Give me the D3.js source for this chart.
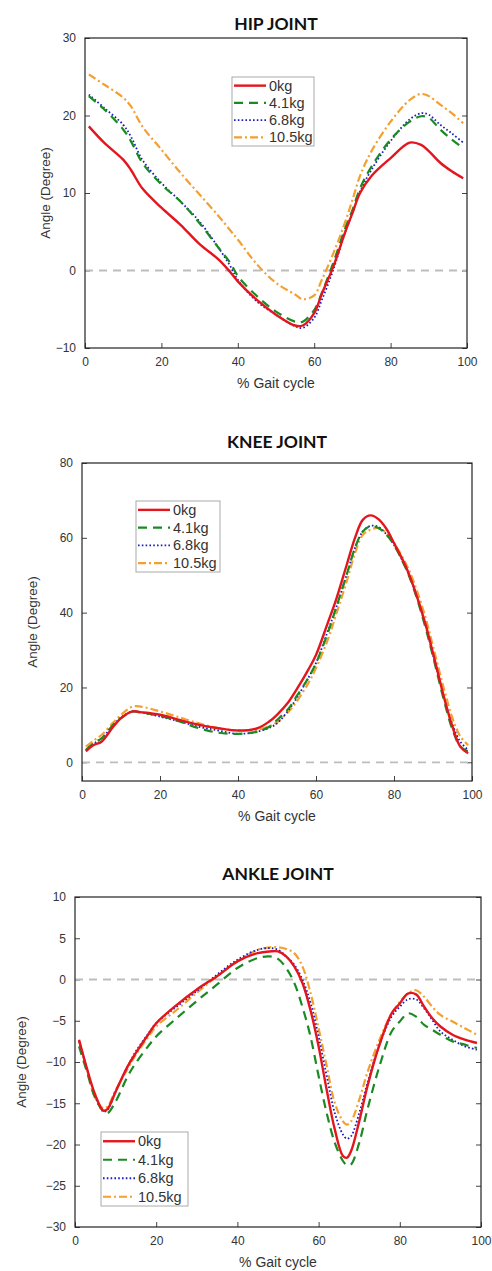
<!DOCTYPE html>
<html>
<head>
<meta charset="utf-8">
<script src="https://cdn.jsdelivr.net/npm/d3@7"></script>
<style>
  body { margin: 0; background: #fff; }
  text { font-family: "Liberation Sans", Arial, sans-serif; }
</style>
</head>
<body>
<script>
// series labels shared by all three panels
const loads = ["0kg", "4.1kg", "6.8kg", "10.5kg"];
const xTicks = [0, 20, 40, 60, 80, 100];

// HIP
const hipX = [1, 5, 10, 12, 15, 20, 25, 30, 35, 38, 40, 45, 50, 55, 57, 60, 62, 65, 68, 70, 72, 75, 80, 85, 88, 90, 93, 96, 99];
const hip0 = [18.6, 16.5, 14.3, 13.0, 10.6, 8.1, 5.9, 3.4, 1.4, -0.2, -1.4, -3.8, -5.7, -7.1, -7.1, -5.5, -3.0, 0.5, 4.8, 7.4, 10.0, 12.2, 14.5, 16.5, 16.2, 15.4, 13.9, 12.8, 11.9];
const hip41 = [22.5, 20.8, 18.2, 16.7, 13.9, 11.1, 8.9, 6.1, 2.9, 1.0, -0.7, -3.3, -5.3, -6.6, -6.6, -5.1, -2.9, 1.0, 5.3, 7.8, 10.6, 13.4, 16.9, 19.2, 19.9, 19.7, 18.2, 16.9, 15.8];
const hip68 = [22.7, 21.0, 18.8, 17.3, 14.3, 11.3, 8.9, 6.3, 2.9, 0.6, -1.2, -4.0, -5.7, -7.2, -7.4, -6.1, -3.8, 0.1, 4.8, 7.4, 10.2, 13.0, 16.7, 19.5, 20.3, 20.1, 18.8, 17.7, 16.5];
const hip105 = [25.3, 24.0, 22.3, 21.2, 18.6, 15.6, 12.6, 9.8, 7.0, 5.2, 4.0, 0.8, -1.6, -3.1, -3.7, -3.2, -1.2, 2.2, 6.1, 9.1, 12.2, 15.4, 19.2, 22.0, 22.8, 22.5, 21.4, 20.3, 19.0];
const hipYTicks = [-10, 0, 10, 20, 30];

// KNEE
const kneeX = [1, 3, 5, 8, 10, 13, 15, 20, 25, 30, 35, 40, 45, 48, 50, 53, 55, 58, 60, 63, 65, 68, 70, 72, 74, 76, 78, 80, 83, 85, 88, 90, 93, 95, 97, 99];
const knee0 = [2.9, 4.6, 5.5, 9.5, 11.8, 13.6, 13.4, 12.7, 11.3, 10.0, 9.1, 8.5, 9.1, 10.9, 12.7, 16.2, 19.4, 24.7, 28.7, 37.2, 43.0, 53.2, 60.0, 64.8, 66.0, 65.0, 62.5, 58.6, 52.4, 47.0, 37.2, 29.2, 16.7, 9.5, 4.2, 2.4];
const knee41 = [3.3, 5.1, 6.4, 10.0, 11.8, 13.6, 13.3, 12.4, 10.9, 9.1, 7.9, 7.6, 8.2, 9.5, 11.3, 14.4, 17.6, 22.5, 26.5, 34.5, 40.8, 50.6, 57.3, 61.7, 63.1, 62.6, 60.9, 58.1, 51.9, 46.6, 36.3, 28.3, 15.8, 8.7, 4.2, 2.9];
const knee68 = [3.3, 5.0, 6.4, 9.8, 12.0, 13.6, 13.4, 12.2, 10.9, 9.5, 8.5, 7.6, 8.2, 9.2, 10.4, 14.0, 17.1, 22.5, 26.5, 35.0, 40.8, 50.6, 57.3, 61.7, 63.2, 62.9, 61.0, 58.1, 52.0, 47.0, 36.8, 28.7, 16.7, 10.0, 5.5, 3.3];
const knee105 = [4.2, 5.8, 7.3, 10.6, 12.7, 14.9, 14.9, 13.6, 12.0, 10.4, 9.1, 8.5, 8.7, 9.6, 10.7, 13.6, 16.2, 21.1, 25.2, 32.7, 39.0, 48.8, 55.9, 60.8, 62.2, 62.6, 61.3, 58.6, 53.2, 48.4, 39.0, 31.0, 18.9, 11.8, 6.9, 4.6];
const kneeYTicks = [0, 20, 40, 60, 80];

// ANKLE
const ankleX = [1, 3, 5, 7, 8, 10, 13, 15, 18, 20, 25, 30, 35, 40, 45, 48, 50, 52, 54, 56, 58, 60, 62, 64, 66, 67, 68, 70, 72, 75, 78, 80, 82, 84, 86, 88, 90, 93, 96, 99];
const ankle0 = [-7.3, -10.9, -14.0, -15.9, -15.7, -13.6, -10.5, -8.9, -6.7, -5.3, -3.1, -1.2, 0.4, 2.2, 3.2, 3.4, 3.4, 2.8, 1.6, -0.4, -3.7, -8.1, -13.4, -18.2, -21.4, -21.6, -20.8, -17.2, -13.0, -7.9, -4.1, -2.9, -1.7, -1.8, -3.3, -4.7, -5.7, -6.7, -7.3, -7.7];
const ankle41 = [-8.1, -11.3, -14.4, -16.0, -16.2, -14.8, -11.7, -10.1, -8.1, -6.9, -4.7, -2.6, -0.6, 1.4, 2.6, 2.8, 2.5, 1.4, -0.4, -3.3, -6.9, -11.7, -16.2, -19.8, -22.0, -22.5, -22.4, -19.8, -15.8, -10.5, -6.3, -5.1, -4.1, -4.5, -5.5, -6.1, -6.7, -7.5, -7.9, -8.3];
const ankle68 = [-7.5, -10.9, -14.2, -16.0, -15.8, -13.6, -10.5, -8.7, -6.6, -5.3, -3.3, -1.4, 0.6, 2.4, 3.6, 3.8, 3.6, 2.8, 1.8, 0.0, -2.8, -6.9, -11.7, -16.2, -18.8, -19.3, -19.0, -16.2, -12.6, -7.9, -4.5, -3.3, -2.4, -2.4, -3.5, -4.9, -6.3, -7.3, -8.1, -8.5];
const ankle105 = [-7.5, -11.0, -14.4, -15.6, -15.4, -13.4, -10.8, -9.1, -7.0, -5.7, -3.7, -1.6, 0.4, 2.2, 3.6, 3.9, 3.9, 3.7, 3.2, 1.6, -1.6, -5.9, -10.5, -15.0, -17.2, -17.6, -17.2, -14.6, -11.3, -7.3, -4.1, -2.7, -1.7, -1.3, -2.1, -3.3, -4.3, -5.1, -5.9, -6.7];
const ankleYTicks = [-30, -25, -20, -15, -10, -5, 0, 5, 10];

const styles = [
  { color: "#e3161d", width: 2.4, dash: null },
  { color: "#1a8a22", width: 2.2, dash: "9,6" },
  { color: "#1c1cc0", width: 1.8, dash: "1.6,2.2" },
  { color: "#f3a030", width: 2.2, dash: "8,3,2,3" },
];

const svg = d3.select("body").append("svg").attr("width", 492).attr("height", 1271);

const panels = [
  { title: "HIP JOINT", x: hipX, series: [hip0, hip41, hip68, hip105], yDomain: [-10, 30], yTicks: hipYTicks,
    box: { left: 85, right: 467, top: 38, bottom: 348 }, titleY: 30, ylabelX: 50,
    legend: { x: 232, y: 77, w: 82, h: 69 } },
  { title: "KNEE JOINT", x: kneeX, series: [knee0, knee41, knee68, knee105], yDomain: [-5, 80], yTicks: kneeYTicks,
    box: { left: 82, right: 472, top: 463, bottom: 781 }, titleY: 448, ylabelX: 37,
    legend: { x: 136, y: 501, w: 84, h: 71 } },
  { title: "ANKLE JOINT", x: ankleX, series: [ankle0, ankle41, ankle68, ankle105], yDomain: [-30, 10], yTicks: ankleYTicks,
    box: { left: 75, right: 481, top: 897, bottom: 1227 }, titleY: 880, ylabelX: 26,
    legend: { x: 101, y: 1132, w: 87, h: 74 } },
];

panels.forEach(drawPanel);

function drawPanel(p) {
  const b = p.box;
  const xScale = d3.scaleLinear().domain([0, 100]).range([b.left, b.right]);
  const yScale = d3.scaleLinear().domain(p.yDomain).range([b.bottom, b.top]);
  const g = svg.append("g");

  g.append("text")
    .attr("x", (b.left + b.right) / 2).attr("y", p.titleY)
    .attr("text-anchor", "middle")
    .style("font-family", "Lato, 'Open Sans', sans-serif")
    .style("font-weight", "bold").style("font-size", "17.5px")
    .attr("fill", "#111")
    .text(p.title);

  // axes with inward ticks (bottom, left, right)
  g.append("g").attr("transform", `translate(0,${b.bottom})`)
    .call(d3.axisBottom(xScale).tickValues(xTicks).tickSizeInner(-5).tickSizeOuter(0).tickPadding(9))
    .call(s => s.select(".domain").remove());
  g.append("g").attr("transform", `translate(${b.left},0)`)
    .call(d3.axisLeft(yScale).tickValues(p.yTicks).tickSizeInner(-5).tickSizeOuter(0).tickPadding(9))
    .call(s => s.select(".domain").remove());
  g.append("g").attr("transform", `translate(${b.right},0)`)
    .call(d3.axisRight(yScale).tickValues(p.yTicks).tickSizeInner(-5).tickSizeOuter(0).tickFormat(""))
    .call(s => s.select(".domain").remove());

  g.selectAll(".tick line").attr("stroke", "#444");
  g.selectAll(".tick text").attr("fill", "#333")
    .style("font-family", "'Liberation Sans', Arial, sans-serif").style("font-size", "12px");

  // zero reference
  g.append("line")
    .attr("x1", b.left).attr("x2", b.right)
    .attr("y1", yScale(0)).attr("y2", yScale(0))
    .attr("stroke", "#bdbdbd").attr("stroke-width", 1.8).attr("stroke-dasharray", "8,6");

  const line = d3.line().curve(d3.curveCatmullRom.alpha(0.5));

  // draw in reverse so red sits on top
  p.series.map((vals, i) => ({ vals, i })).reverse().forEach(({ vals, i }) => {
    const st = styles[i];
    g.append("path")
      .attr("d", line(vals.map((v, k) => [xScale(p.x[k]), yScale(v)])))
      .attr("fill", "none")
      .attr("stroke", st.color)
      .attr("stroke-width", st.width)
      .attr("stroke-dasharray", st.dash);
  });

  g.append("rect")
    .attr("x", b.left).attr("y", b.top)
    .attr("width", b.right - b.left).attr("height", b.bottom - b.top)
    .attr("fill", "none").attr("stroke", "#222").attr("stroke-width", 1.2);

  g.append("text")
    .attr("x", (b.left + b.right) / 2).attr("y", b.bottom + 40)
    .attr("text-anchor", "middle").attr("fill", "#333")
    .style("font-size", "14px")
    .text("% Gait cycle");

  g.append("text")
    .attr("transform", `translate(${p.ylabelX},${(b.top + b.bottom) / 2}) rotate(-90)`)
    .attr("text-anchor", "middle").attr("fill", "#333")
    .style("font-size", "13.5px")
    .text("Angle (Degree)");

  // legend
  const L = p.legend;
  const lg = g.append("g").attr("transform", `translate(${L.x},${L.y})`);
  lg.append("rect").attr("width", L.w).attr("height", L.h)
    .attr("fill", "#fff").attr("stroke", "#aaa").attr("stroke-width", 1);
  const rowH = L.h / 4;
  loads.forEach((name, i) => {
    const cy = rowH * (i + 0.5);
    const st = styles[i];
    lg.append("line")
      .attr("x1", 2).attr("x2", 34).attr("y1", cy).attr("y2", cy)
      .attr("stroke", st.color).attr("stroke-width", st.width)
      .attr("stroke-dasharray", st.dash);
    lg.append("text")
      .attr("x", 37).attr("y", cy + 5)
      .attr("fill", "#333").style("font-size", "14.5px")
      .text(name);
  });
}
</script>
</body>
</html>
